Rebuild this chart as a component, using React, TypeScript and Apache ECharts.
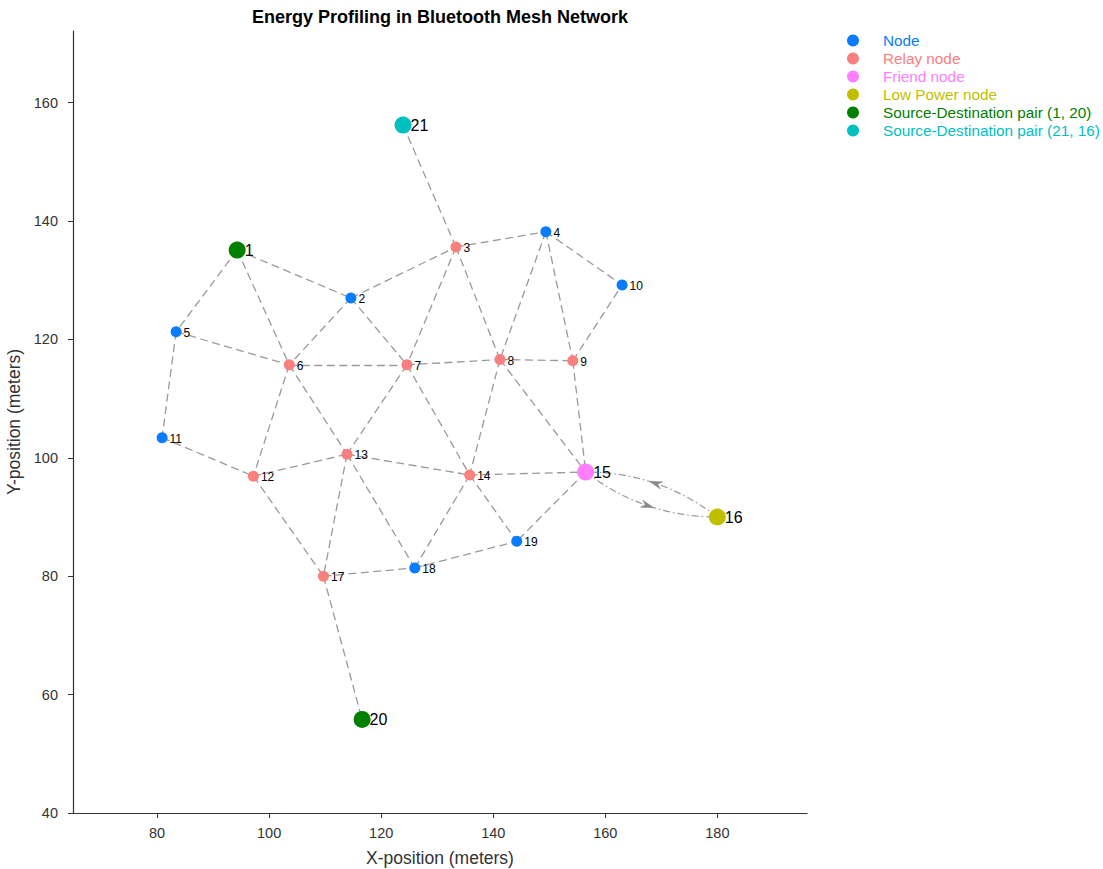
import React, { useEffect, useRef } from "react";
import * as echarts from "echarts";

const FONT = "'Liberation Sans', Arial, Helvetica, sans-serif";

// node id -> position (meters)
const nodeIds = [1, 2, 3, 4, 5, 6, 7, 8, 9, 10, 11, 12, 13, 14, 15, 16, 17, 18, 19, 20, 21];
const nodeX = [94.3, 114.6, 133.35, 149.4, 83.4, 103.6, 124.6, 141.2, 154.2, 163.0, 80.9, 97.2, 113.9, 135.8, 156.5, 180.0, 109.7, 126.0, 144.2, 116.6, 123.9];
const nodeY = [135.1, 127.0, 135.6, 138.2, 121.3, 115.7, 115.7, 116.6, 116.4, 129.2, 103.4, 96.9, 100.6, 97.1, 97.6, 90.0, 80.0, 81.4, 85.9, 55.8, 156.2];

const categories = [
  "Node",
  "Relay node",
  "Friend node",
  "Low Power node",
  "Source-Destination pair (1, 20)",
  "Source-Destination pair (21, 16)",
];
const categoryColors = ["#0a7cff", "#fa7f7f", "#ff7fff", "#bfbf00", "#008000", "#00bfbf"];
const categoryMembers = [
  [2, 4, 5, 10, 11, 18, 19],
  [3, 6, 7, 8, 9, 12, 13, 14, 17],
  [15],
  [16],
  [1, 20],
  [21],
];
const largeNodes = [1, 15, 16, 20, 21];

const edges = [
  [1, 5], [1, 6], [1, 2],
  [2, 3], [2, 6], [2, 7],
  [3, 21], [3, 4], [3, 7], [3, 8],
  [4, 8], [4, 9], [4, 10],
  [5, 6], [5, 11],
  [6, 7], [6, 12], [6, 13],
  [7, 8], [7, 13], [7, 14],
  [8, 9], [8, 14], [8, 15],
  [9, 10], [9, 15],
  [11, 12],
  [12, 13], [12, 17],
  [13, 14], [13, 17], [13, 18],
  [14, 15], [14, 18], [14, 19],
  [15, 19],
  [17, 18], [17, 20],
  [18, 19],
];

// directed curved links (friend <-> low power)
const arcs = [
  [15, 16],
  [16, 15],
];

const xTicks = [80, 100, 120, 140, 160, 180];
const yTicks = [40, 60, 80, 100, 120, 140, 160];

function pos(id: number): [number, number] {
  const i = nodeIds.indexOf(id);
  return [nodeX[i], nodeY[i]];
}

export default function App() {
  const ref = useRef<HTMLDivElement>(null);
  useEffect(() => {
    if (!ref.current) return;
    const chart = echarts.init(ref.current, undefined, { renderer: "svg" });

    const edgeSeries: any = {
      type: "lines",
      coordinateSystem: "cartesian2d",
      silent: true,
      z: 1,
      lineStyle: { color: "#9a9a9a", width: 1.3, type: [8, 4.5], opacity: 1 },
      data: edges.map(([a, b]) => ({ coords: [pos(a), pos(b)] })),
    };

    const arcSeries: any = {
      type: "custom",
      coordinateSystem: "cartesian2d",
      silent: true,
      z: 2,
      data: arcs.map(([a, b]) => [...pos(a), ...pos(b)]),
      renderItem: (params: any, api: any) => {
        const p1 = api.coord([api.value(0), api.value(1)]);
        const p2 = api.coord([api.value(2), api.value(3)]);
        const dx = p2[0] - p1[0];
        const dy = p2[1] - p1[1];
        const len = Math.sqrt(dx * dx + dy * dy);
        const nx = -dy / len;
        const ny = dx / len;
        const k = 0.17;
        const cx = (p1[0] + p2[0]) / 2 + k * len * nx;
        const cy = (p1[1] + p2[1]) / 2 + k * len * ny;
        const mx = 0.25 * p1[0] + 0.5 * cx + 0.25 * p2[0];
        const my = 0.25 * p1[1] + 0.5 * cy + 0.25 * p2[1];
        const ux = dx / len;
        const uy = dy / len;
        const L = 6.5;
        const W = 3.8;
        return {
          type: "group",
          children: [
            {
              type: "bezierCurve",
              shape: { x1: p1[0], y1: p1[1], x2: p2[0], y2: p2[1], cpx1: cx, cpy1: cy },
              style: { stroke: "#9a9a9a", lineWidth: 1.2, fill: null, lineDash: [7, 3, 1.5, 3] },
            },
            {
              type: "polygon",
              shape: {
                points: [
                  [mx + L * ux, my + L * uy],
                  [mx - L * ux + W * nx, my - L * uy + W * ny],
                  [mx - 0.4 * L * ux, my - 0.4 * L * uy],
                  [mx - L * ux - W * nx, my - L * uy - W * ny],
                ],
              },
              style: { fill: "#8a8a8a", stroke: "#8a8a8a", lineWidth: 0.5 },
            },
          ],
        };
      },
    };

    const nodeSeries: any[] = categories.map((name, ci) => ({
      type: "scatter",
      name,
      z: 5,
      itemStyle: { color: categoryColors[ci], opacity: 1 },
      data: categoryMembers[ci].map((id) => {
        const big = largeNodes.includes(id);
        return {
          name: String(id),
          value: pos(id),
          symbolSize: big ? 17 : 11,
          label: {
            show: true,
            position: "right",
            distance: big ? -1 : 2,
            offset: big ? [0, 0] : [0, 1],
            formatter: String(id),
            color: "#000",
            fontFamily: FONT,
            fontSize: big ? 16 : 12,
          },
        };
      }),
    }));

    chart.setOption({
      animation: false,
      textStyle: { fontFamily: FONT },
      grid: { left: 73, right: 296, top: 31, bottom: 56, containLabel: false, outerBoundsMode: "none" },
      graphic: [
        {
          type: "text",
          x: 440,
          y: 17,
          style: {
            text: "Energy Profiling in Bluetooth Mesh Network",
            fontFamily: FONT,
            fontWeight: "bold",
            fontSize: 18,
            fill: "#000",
            textAlign: "center",
            textVerticalAlign: "middle",
          },
        },
      ],
      legend: {
        orient: "vertical",
        left: 847,
        top: 33,
        padding: 0,
        itemWidth: 50,
        itemHeight: 12,
        itemGap: 3,
        icon: "circle",
        selectedMode: false,
        data: categories.map((name, ci) => ({
          name,
          icon: "circle",
          textStyle: { color: categoryColors[ci], fontSize: 15.3, lineHeight: 15, fontFamily: FONT },
        })),
      },
      xAxis: {
        type: "value",
        min: 65,
        max: 196,
        splitLine: { show: false },
        axisLine: { show: true, lineStyle: { color: "#333", width: 1.2 } },
        axisTick: { show: true, length: 5, lineStyle: { color: "#333" }, customValues: xTicks },
        axisLabel: { color: "#333", fontSize: 14.5, margin: 12, customValues: xTicks, fontFamily: FONT },
        name: "X-position (meters)",
        nameLocation: "middle",
        nameGap: 36,
        nameTextStyle: { color: "#333", fontSize: 17.5, fontFamily: FONT },
      },
      yAxis: {
        type: "value",
        min: 40,
        max: 172.1,
        splitLine: { show: false },
        axisLine: { show: true, lineStyle: { color: "#333", width: 1.2 } },
        axisTick: { show: true, length: 5, lineStyle: { color: "#333" }, customValues: yTicks },
        axisLabel: { color: "#333", fontSize: 14.5, margin: 15, customValues: yTicks, fontFamily: FONT },
        name: "Y-position (meters)",
        nameLocation: "middle",
        nameGap: 47,
        nameTextStyle: { color: "#333", fontSize: 17.5, fontFamily: FONT },
      },
      series: [edgeSeries, arcSeries, ...nodeSeries],
    });
    return () => chart.dispose();
  }, []);
  return (
    <div
      ref={ref}
      style={{ position: "absolute", left: 0, top: 0, width: 1103, height: 869 }}
    />
  );
}
